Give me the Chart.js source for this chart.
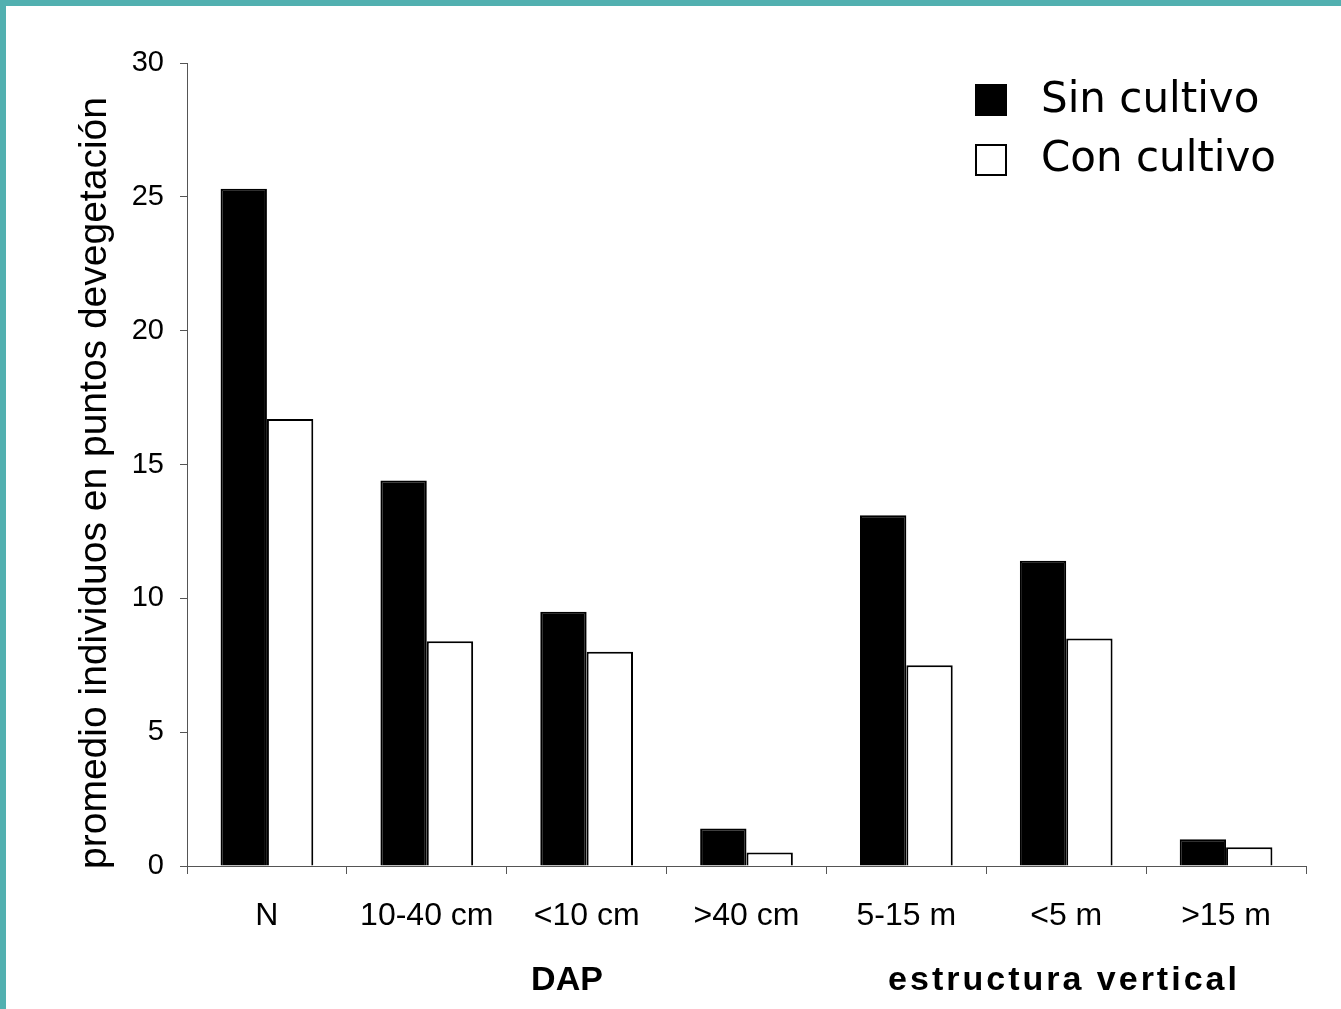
<!DOCTYPE html>
<html>
<head>
<meta charset="utf-8">
<script src="https://cdn.jsdelivr.net/npm/chart.js@4"></script>
<style>
  html, body { margin: 0; padding: 0; background: #fff; }
  #wrap { position: relative; width: 1341px; height: 1009px; }
</style>
</head>
<body>
<div id="wrap"><canvas id="c" width="1341" height="1009"></canvas></div>
<script>
const categories = ["N", "10-40 cm", "<10 cm", ">40 cm", "5-15 m", "<5 m", ">15 m"];
const sinCultivo = [25.3, 14.4, 9.5, 1.4, 13.1, 11.4, 1.0];
const conCultivo = [16.7, 8.4, 8.0, 0.5, 7.5, 8.5, 0.7];
const seriesNames = ["Sin cultivo", "Con cultivo"];
const yTicks = [0, 5, 10, 15, 20, 25, 30];
const yTitle = "promedio individuos en puntos devegetación";
const groupLabels = ["DAP", "estructura vertical"];

const FONT = "'Liberation Sans', Arial, sans-serif";

const framePlugin = {
  id: 'frame',
  beforeDraw(chart) {
    const ctx = chart.ctx;
    ctx.save();
    ctx.fillStyle = '#ffffff';
    ctx.fillRect(0, 0, chart.width, chart.height);
    ctx.fillStyle = '#52b0b0';
    ctx.fillRect(0, 0, chart.width, 6);
    ctx.fillRect(0, 0, 6, chart.height);
    ctx.restore();
  }
};

const textPlugin = {
  id: 'extraText',
  afterDraw(chart) {
    const ctx = chart.ctx;
    ctx.save();
    // y-axis title
    ctx.fillStyle = '#000';
    ctx.font = "39px " + FONT;
    ctx.textAlign = 'center';
    ctx.textBaseline = 'alphabetic';
    ctx.translate(106, 483);
    ctx.rotate(-Math.PI / 2);
    ctx.fillText(yTitle, 0, 0);
    ctx.restore();

    // group labels
    ctx.save();
    ctx.fillStyle = '#000';
    ctx.font = "bold 34px " + FONT;
    ctx.textAlign = 'center';
    ctx.textBaseline = 'alphabetic';
    ctx.fillText(groupLabels[0], 567, 990);
    ctx.letterSpacing = '3px';
    ctx.fillText(groupLabels[1], 1064, 990);
    ctx.restore();

    // legend
    ctx.save();
    const ds = chart.data.datasets;
    const boxTops = [84, 144];
    const baselines = [112, 171];
    ds.forEach((d, i) => {
      ctx.fillStyle = d.backgroundColor;
      ctx.fillRect(975, boxTops[i], 32, 32);
      ctx.strokeStyle = '#000';
      ctx.lineWidth = 2;
      ctx.strokeRect(976, boxTops[i] + 1, 30, 30);
      ctx.fillStyle = '#000';
      ctx.font = "42px 'DejaVu Sans', sans-serif";
      ctx.textAlign = 'left';
      ctx.textBaseline = 'alphabetic';
      ctx.fillText(d.label, 1041, baselines[i]);
    });
    ctx.restore();
  }
};

new Chart(document.getElementById('c'), {
  type: 'bar',
  data: {
    labels: categories,
    datasets: [
      { label: seriesNames[0], data: sinCultivo, backgroundColor: '#000000', borderColor: '#000000', borderWidth: 2 },
      { label: seriesNames[1], data: conCultivo, backgroundColor: '#ffffff', borderColor: '#000000', borderWidth: 2 }
    ]
  },
  options: {
    responsive: false,
    animation: false,
    devicePixelRatio: 1,
    layout: { padding: { left: 0, top: 63, right: 35, bottom: 0 } },
    datasets: { bar: { categoryPercentage: 0.58, barPercentage: 1.0 } },
    plugins: { legend: { display: false }, tooltip: { enabled: false } },
    scales: {
      x: {
        afterFit(s) { s.height = 143; },
        grid: { display: true, drawOnChartArea: false, drawTicks: true, tickLength: 8, color: '#555', offset: true },
        border: { display: true, color: '#555', width: 1 },
        ticks: { color: '#000', font: { family: FONT, size: 32 }, padding: 23, maxRotation: 0, autoSkip: false }
      },
      y: {
        min: 0, max: 30,
        afterFit(s) { s.width = 187; },
        afterBuildTicks(s) { s.ticks = yTicks.map(v => ({ value: v })); },
        grid: { display: true, drawOnChartArea: false, drawTicks: true, tickLength: 7, color: '#555' },
        border: { display: true, color: '#555', width: 1 },
        ticks: { color: '#000', font: { family: FONT, size: 29 }, padding: 16 }
      }
    }
  },
  plugins: [framePlugin, textPlugin]
});
</script>
</body>
</html>
